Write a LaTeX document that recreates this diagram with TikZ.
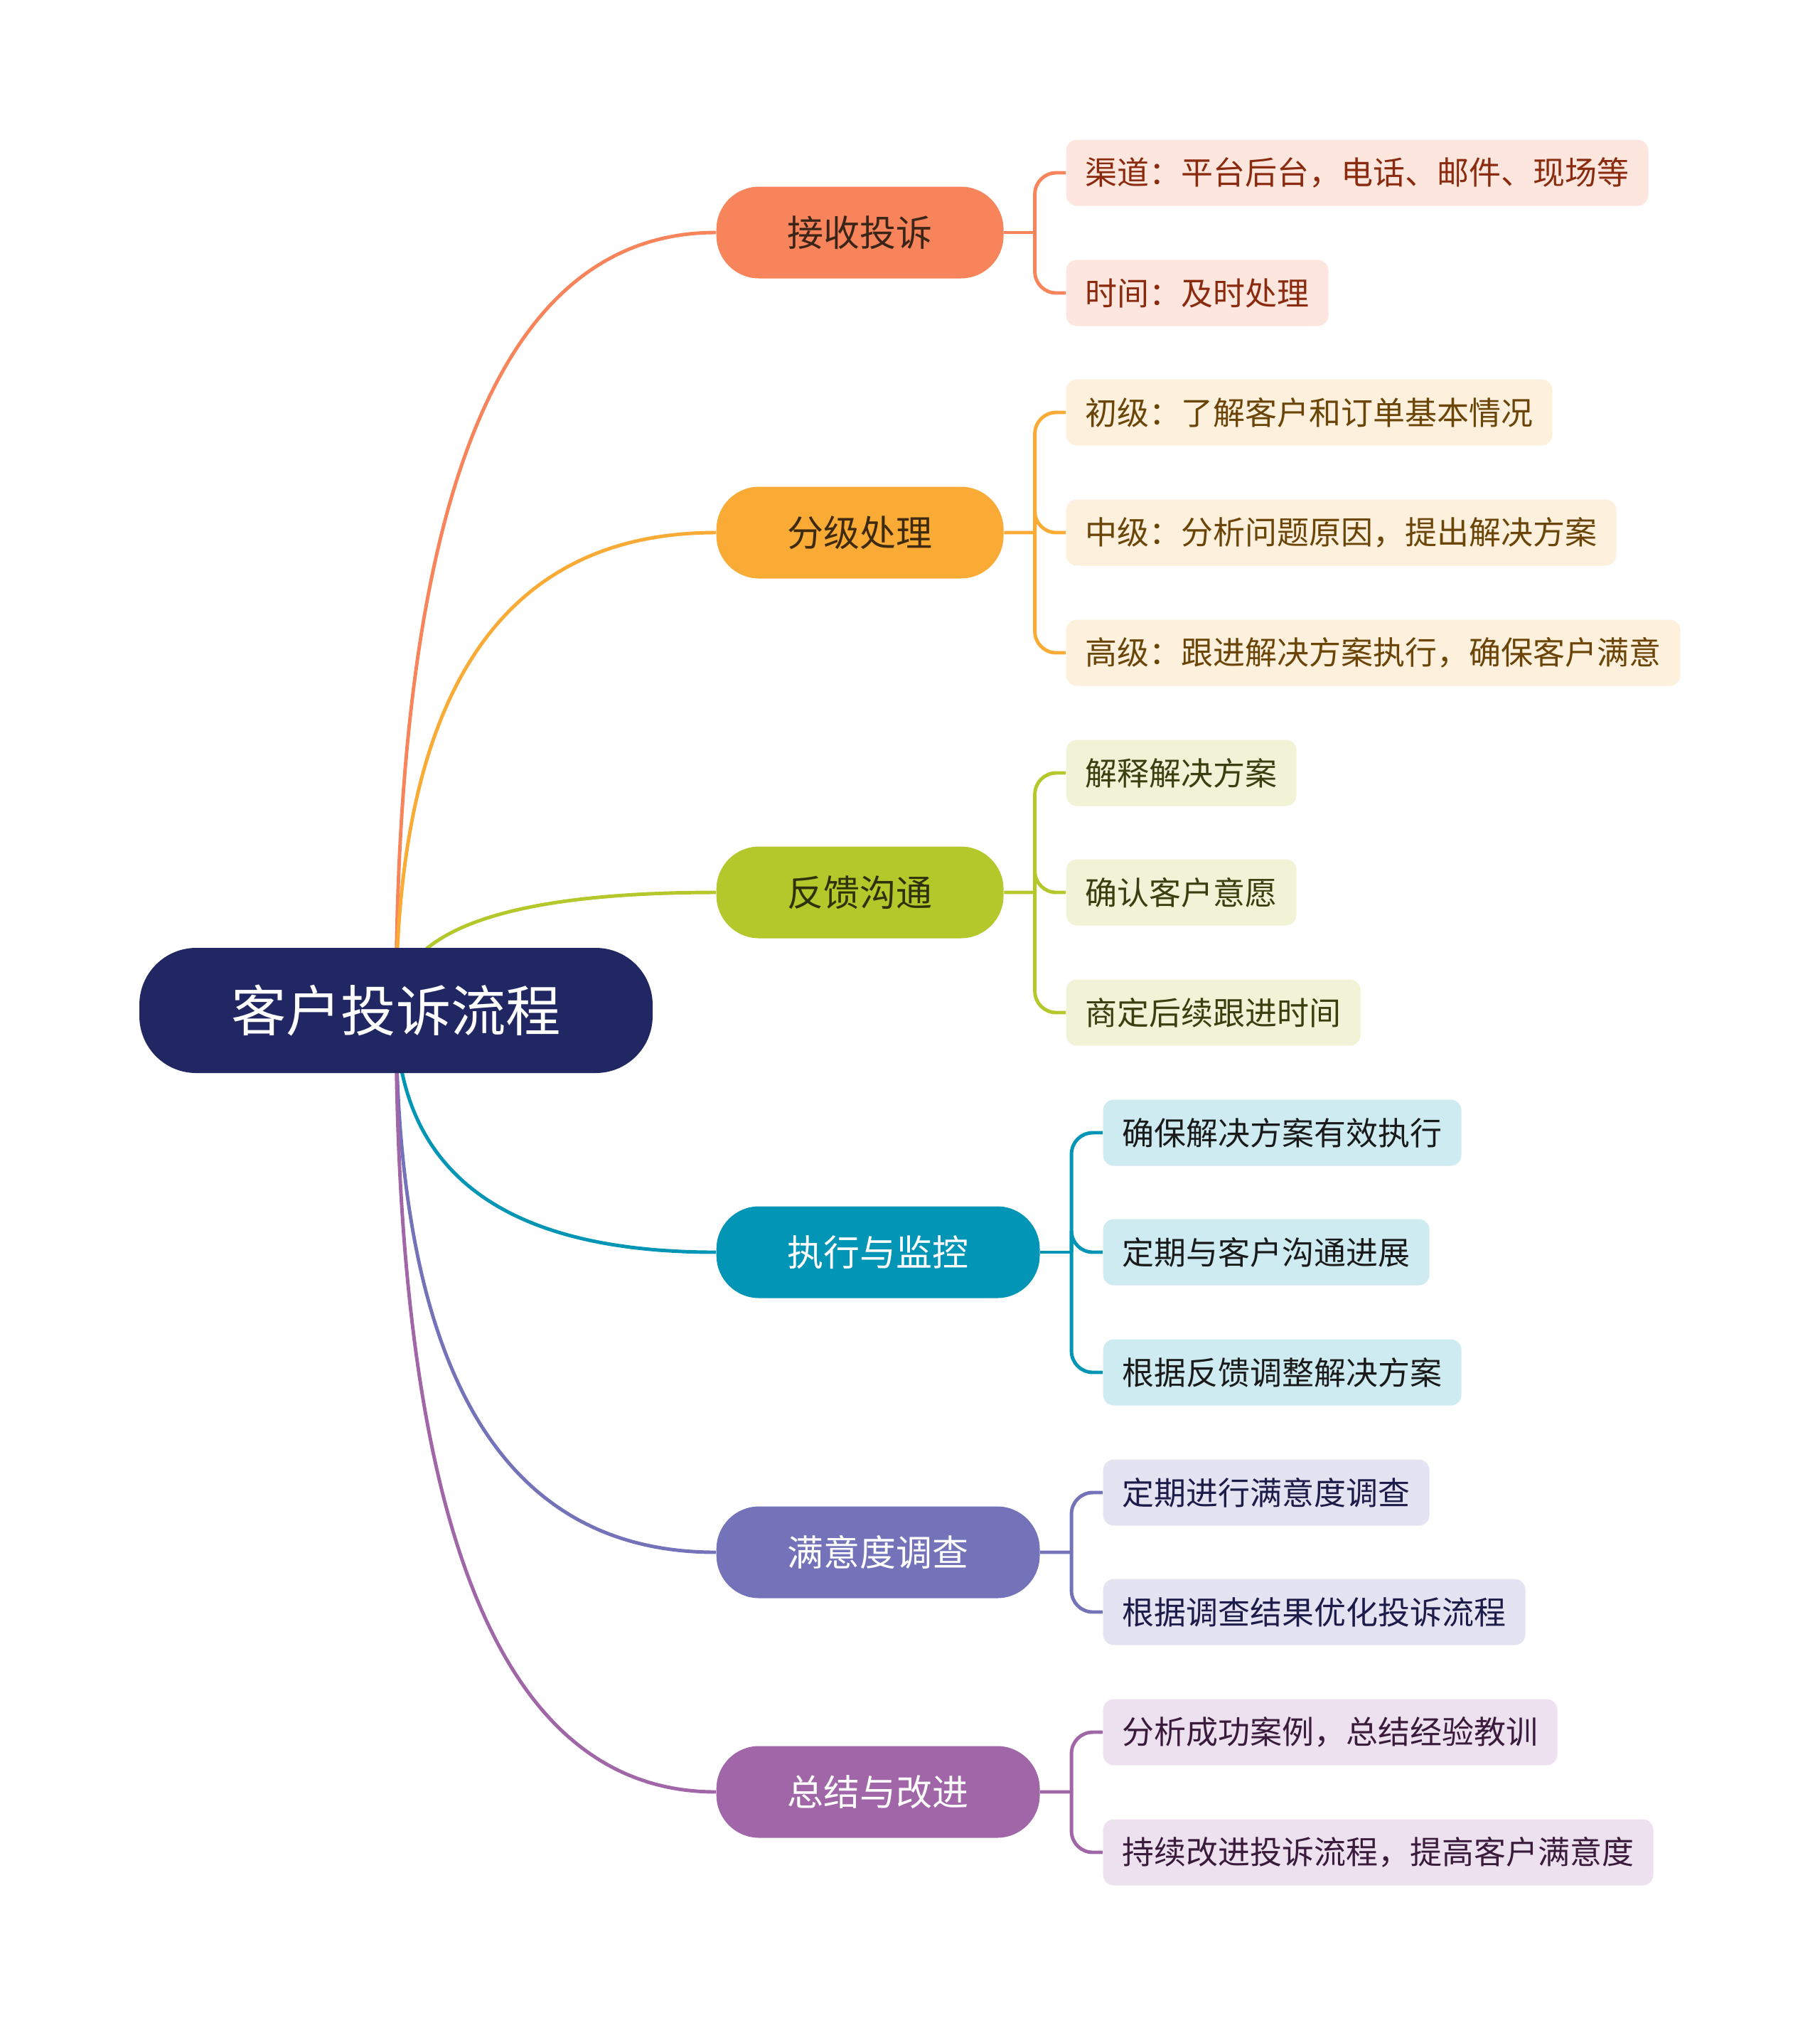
\documentclass[tikz,border=0pt]{standalone}
\usepackage{fontspec}
\setmainfont{Noto Sans CJK SC}
\usepackage{tikz}
\usetikzlibrary{positioning, calc, backgrounds}
\definecolor{rootBlue}{HTML}{212763}
\definecolor{orangeMain}{HTML}{F7845A}
\definecolor{orangeLeaf}{HTML}{FDE6DE}
\definecolor{orangeText}{HTML}{8A2A0E}
\definecolor{orangeDark}{HTML}{3B2418}
\definecolor{yellowMain}{HTML}{FAAB35}
\definecolor{yellowLeaf}{HTML}{FDF0DC}
\definecolor{yellowText}{HTML}{6B4508}
\definecolor{yellowDark}{HTML}{3D2A0F}
\definecolor{greenMain}{HTML}{B4C72B}
\definecolor{greenLeaf}{HTML}{F0F3D6}
\definecolor{greenText}{HTML}{3A3F10}
\definecolor{greenDark}{HTML}{2E3209}
\definecolor{tealMain}{HTML}{0295B5}
\definecolor{tealLeaf}{HTML}{CDEBF1}
\definecolor{tealText}{HTML}{1A1A1A}
\definecolor{blueMain}{HTML}{7473B9}
\definecolor{blueLeaf}{HTML}{E4E3F1}
\definecolor{blueText}{HTML}{1C1C4A}
\definecolor{purpleMain}{HTML}{A066A8}
\definecolor{purpleLeaf}{HTML}{EDE1EF}
\definecolor{purpleText}{HTML}{3A1B3C}
\tikzset{
  root_node/.style={rectangle, fill=rootBlue, text=white, rounded corners=8mm, minimum height=1.76cm, inner xsep=1.29cm, inner ysep=0pt, font=\fontsize{22}{26}\selectfont},
  topic/.style={rectangle, rounded corners=6mm, minimum height=1.29cm, inner xsep=1cm, inner ysep=0pt, anchor=west, font=\fontsize{14.5}{17}\selectfont},
  leaf/.style={rectangle, rounded corners=1.5mm, minimum height=0.93cm, inner xsep=0.27cm, inner ysep=0pt, anchor=west, font=\fontsize{12.8}{15}\selectfont},
  topic_orange/.style={topic, fill=orangeMain, text=orangeDark},
  topic_yellow/.style={topic, fill=yellowMain, text=yellowDark},
  topic_green/.style={topic, fill=greenMain, text=greenDark},
  topic_teal/.style={topic, fill=tealMain, text=white},
  topic_blue/.style={topic, fill=blueMain, text=white},
  topic_purple/.style={topic, fill=purpleMain, text=white},
  leaf_orange/.style={leaf, fill=orangeLeaf, text=orangeText},
  leaf_yellow/.style={leaf, fill=yellowLeaf, text=yellowText},
  leaf_green/.style={leaf, fill=greenLeaf, text=greenText},
  leaf_teal/.style={leaf, fill=tealLeaf, text=tealText},
  leaf_blue/.style={leaf, fill=blueLeaf, text=blueText},
  leaf_purple/.style={leaf, fill=purpleLeaf, text=purpleText},
  branch/.style={line width=1.4pt},
  bracket/.style={line width=1.4pt, rounded corners=3mm}
}

\begin{document}
\begin{tikzpicture}
  \useasboundingbox (0,0) rectangle (25.6,-28.45);

  \node[root_node] (root) at (5.57,-14.21) {客户投诉流程};

  \node[topic_orange] (t1) at (10.07,-3.27) {接收投诉};
  \node[topic_yellow] (t2) at (10.07,-7.49) {分级处理};
  \node[topic_green] (t3) at (10.07,-12.55) {反馈沟通};
  \node[topic_teal] (t4) at (10.07,-17.61) {执行与监控};
  \node[topic_blue] (t5) at (10.07,-21.83) {满意度调查};
  \node[topic_purple] (t6) at (10.07,-25.20) {总结与改进};

  \node[leaf_orange] (l11) at (14.99,-2.43) {渠道：平台后台，电话、邮件、现场等};
  \node[leaf_orange] (l12) at (14.99,-4.12) {时间：及时处理};
  \node[leaf_yellow] (l21) at (14.99,-5.80) {初级：了解客户和订单基本情况};
  \node[leaf_yellow] (l22) at (14.99,-7.49) {中级：分析问题原因，提出解决方案};
  \node[leaf_yellow] (l23) at (14.99,-9.18) {高级：跟进解决方案执行，确保客户满意};
  \node[leaf_green] (l31) at (14.99,-10.87) {解释解决方案};
  \node[leaf_green] (l32) at (14.99,-12.55) {确认客户意愿};
  \node[leaf_green] (l33) at (14.99,-14.24) {商定后续跟进时间};
  \node[leaf_teal] (l41) at (15.51,-15.93) {确保解决方案有效执行};
  \node[leaf_teal] (l42) at (15.51,-17.61) {定期与客户沟通进展};
  \node[leaf_teal] (l43) at (15.51,-19.30) {根据反馈调整解决方案};
  \node[leaf_blue] (l51) at (15.51,-20.99) {定期进行满意度调查};
  \node[leaf_blue] (l52) at (15.51,-22.67) {根据调查结果优化投诉流程};
  \node[leaf_purple] (l61) at (15.51,-24.36) {分析成功案例，总结经验教训};
  \node[leaf_purple] (l62) at (15.51,-26.05) {持续改进投诉流程，提高客户满意度};

  \coordinate (b1) at ($(t1.east)!0.5!(l11.west |- t1.east)$);
  \coordinate (b2) at ($(t2.east)!0.5!(l21.west |- t2.east)$);
  \coordinate (b3) at ($(t3.east)!0.5!(l31.west |- t3.east)$);
  \coordinate (b4) at ($(t4.east)!0.5!(l41.west |- t4.east)$);
  \coordinate (b5) at ($(t5.east)!0.5!(l51.west |- t5.east)$);
  \coordinate (b6) at ($(t6.east)!0.5!(l61.west |- t6.east)$);

  \begin{scope}[on background layer]
    \draw[branch, orangeMain] (root.center) .. controls ($(root.center)!0.667!(root.center |- t1.west)$) and ($(t1.west)!0.667!(root.center |- t1.west)$) .. (t1.west);
    \draw[branch, yellowMain] (root.center) .. controls ($(root.center)!0.667!(root.center |- t2.west)$) and ($(t2.west)!0.667!(root.center |- t2.west)$) .. (t2.west);
    \draw[branch, greenMain] (root.center) .. controls ($(root.center)!0.667!(root.center |- t3.west)$) and ($(t3.west)!0.667!(root.center |- t3.west)$) .. (t3.west);
    \draw[branch, tealMain] (root.center) .. controls ($(root.center)!0.667!(root.center |- t4.west)$) and ($(t4.west)!0.667!(root.center |- t4.west)$) .. (t4.west);
    \draw[branch, blueMain] (root.center) .. controls ($(root.center)!0.667!(root.center |- t5.west)$) and ($(t5.west)!0.667!(root.center |- t5.west)$) .. (t5.west);
    \draw[branch, purpleMain] (root.center) .. controls ($(root.center)!0.667!(root.center |- t6.west)$) and ($(t6.west)!0.667!(root.center |- t6.west)$) .. (t6.west);

    \draw[bracket, orangeMain] (t1.east) -- (b1);
    \draw[bracket, orangeMain] (b1) |- (l11.west);
    \draw[bracket, orangeMain] (b1) |- (l12.west);
    \draw[bracket, yellowMain] (t2.east) -- (b2);
    \draw[bracket, yellowMain] (b2) |- (l21.west);
    \draw[bracket, yellowMain] (b2) |- (l22.west);
    \draw[bracket, yellowMain] (b2) |- (l23.west);
    \draw[bracket, greenMain] (t3.east) -- (b3);
    \draw[bracket, greenMain] (b3) |- (l31.west);
    \draw[bracket, greenMain] (b3) |- (l32.west);
    \draw[bracket, greenMain] (b3) |- (l33.west);
    \draw[bracket, tealMain] (t4.east) -- (b4);
    \draw[bracket, tealMain] (b4) |- (l41.west);
    \draw[bracket, tealMain] (b4) |- (l42.west);
    \draw[bracket, tealMain] (b4) |- (l43.west);
    \draw[bracket, blueMain] (t5.east) -- (b5);
    \draw[bracket, blueMain] (b5) |- (l51.west);
    \draw[bracket, blueMain] (b5) |- (l52.west);
    \draw[bracket, purpleMain] (t6.east) -- (b6);
    \draw[bracket, purpleMain] (b6) |- (l61.west);
    \draw[bracket, purpleMain] (b6) |- (l62.west);
  \end{scope}
\end{tikzpicture}
\end{document}
